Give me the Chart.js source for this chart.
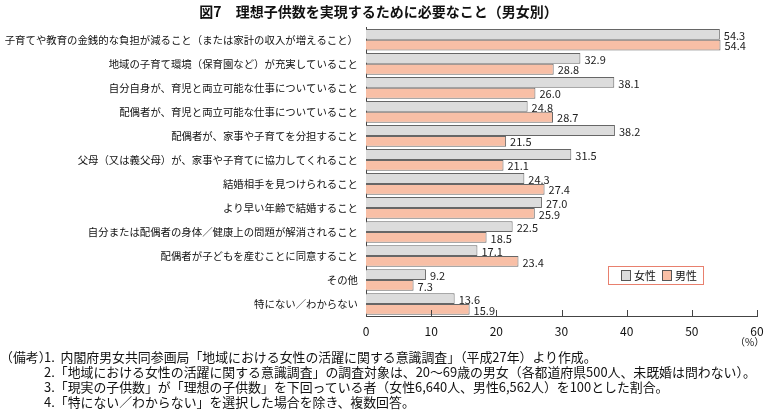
<!DOCTYPE html>
<html>
<head>
<meta charset="utf-8">
<script src="https://cdn.jsdelivr.net/npm/chart.js@4/dist/chart.umd.min.js"></script>
<style>
  body { margin: 0; background: #fff; font-family: "Noto Sans CJK JP", sans-serif; }
  #wrap { position: relative; width: 764px; height: 417px; overflow: hidden; }
  #box { position: absolute; left: 0; top: 0; width: 764px; height: 350px; }
  .note { position: absolute; font-size: 12.9px; color: #111; white-space: nowrap; line-height: 15px; }
</style>
</head>
<body>
<div id="wrap">
  <div id="box"><canvas id="myChart"></canvas></div>
  <div class="note" style="left:0px;top:349px;">（備考）</div>
  <div class="note" style="left:44px;top:349px;">1.&nbsp;&nbsp;内閣府男女共同参画局「地域における女性の活躍に関する意識調査」（平成27年）より作成。</div>
  <div class="note" style="left:44px;top:364px;">2.「地域における女性の活躍に関する意識調査」の調査対象は、20～69歳の男女（各都道府県500人、未既婚は問わない）。</div>
  <div class="note" style="left:44px;top:379px;">3.「現実の子供数」が「理想の子供数」を下回っている者（女性6,640人、男性6,562人）を100とした割合。</div>
  <div class="note" style="left:44px;top:394px;">4.「特にない／わからない」を選択した場合を除き、複数回答。</div>
</div>
<script>
const categories = [
  '子育てや教育の金銭的な負担が減ること（または家計の収入が増えること）',
  '地域の子育て環境（保育園など）が充実していること',
  '自分自身が、育児と両立可能な仕事についていること',
  '配偶者が、育児と両立可能な仕事についていること',
  '配偶者が、家事や子育てを分担すること',
  '父母（又は義父母）が、家事や子育てに協力してくれること',
  '結婚相手を見つけられること',
  'より早い年齢で結婚すること',
  '自分または配偶者の身体／健康上の問題が解消されること',
  '配偶者が子どもを産むことに同意すること',
  'その他',
  '特にない／わからない'
];
const female = [54.3, 32.9, 38.1, 24.8, 38.2, 31.5, 24.3, 27.0, 22.5, 17.1, 9.2, 13.6];
const male = [54.4, 28.8, 26.0, 28.7, 21.5, 21.1, 27.4, 25.9, 18.5, 23.4, 7.3, 15.9];
const xTicks = [0, 10, 20, 30, 40, 50, 60];

const FONT = '"Noto Sans CJK JP", sans-serif';
const GRAY = '#dcdcdc';
const SALMON = '#f8bfa6';

// value labels, inside ticks, legend box, unit
const extras = {
  id: 'extras',
  afterDatasetsDraw(chart) {
    const c = chart.ctx;
    c.save();
    c.font = '11px ' + FONT;
    c.fillStyle = '#222';
    c.textBaseline = 'middle';
    chart.data.datasets.forEach((ds, di) => {
      chart.getDatasetMeta(di).data.forEach((bar, i) => {
        c.fillText(ds.data[i].toFixed(1), bar.x + 4, bar.y + 1);
      });
    });
    const xs = chart.scales.x;
    const bottom = chart.chartArea.bottom;
    c.strokeStyle = '#444';
    c.lineWidth = 1;
    c.beginPath();
    xTicks.forEach(v => {
      if (v === 0) return;
      const px = Math.round(xs.getPixelForValue(v)) + 0.5;
      c.moveTo(px, bottom);
      c.lineTo(px, bottom - 6);
    });
    c.stroke();

    // legend
    c.strokeStyle = '#e8806e';
    c.strokeRect(608.5, 266.5, 95, 18);
    c.strokeStyle = '#555';
    c.fillStyle = GRAY;
    c.fillRect(621.5, 270.5, 9, 10);
    c.strokeRect(621.5, 270.5, 9, 10);
    c.fillStyle = SALMON;
    c.fillRect(662.5, 270.5, 9, 10);
    c.strokeRect(662.5, 270.5, 9, 10);
    c.fillStyle = '#111';
    c.fillText('女性', 634, 276);
    c.fillText('男性', 675, 276);

    c.font = '10px ' + FONT;
    c.fillText('（%）', 735, 342);
    c.restore();
  }
};

const cfg = {
  type: 'bar',
  data: {
    labels: categories,
    datasets: [
      { label: '女性', data: female, backgroundColor: GRAY, borderColor: '#666', borderWidth: 1 },
      { label: '男性', data: male, backgroundColor: SALMON, borderColor: '#666', borderWidth: 1 }
    ]
  },
  options: {
    indexAxis: 'y',
    responsive: true,
    maintainAspectRatio: false,
    animation: false,
    layout: { padding: { left: 0, right: 7, top: 0, bottom: 0 } },
    datasets: { bar: { categoryPercentage: 0.9, barPercentage: 1.0 } },
    plugins: {
      legend: { display: false },
      tooltip: { enabled: false },
      title: {
        display: true,
        text: '図7　理想子供数を実現するために必要なこと（男女別）',
        color: '#111',
        font: { family: FONT, size: 14, weight: 'bold' },
        padding: { top: 3, bottom: 8 }
      }
    },
    scales: {
      x: {
        min: 0, max: 60,
        afterBuildTicks: s => { s.ticks = xTicks.map(v => ({ value: v })); },
        afterFit: s => { s.height = 34; s.paddingRight = 0; s.paddingLeft = 0; },
        grid: { display: false, drawTicks: false },
        border: { display: true, color: '#444' },
        ticks: { color: '#111', padding: 8, font: { family: FONT, size: 12 } }
      },
      y: {
        afterFit: s => { s.width = 366; },
        grid: { display: false, drawTicks: false },
        border: { display: true, color: '#444' },
        ticks: { autoSkip: false, color: '#111', padding: 8, font: { family: FONT, size: 10.4 } }
      }
    }
  },
  plugins: [extras]
};

let cht = new Chart(document.getElementById('myChart'), cfg);
</script>
</body>
</html>
